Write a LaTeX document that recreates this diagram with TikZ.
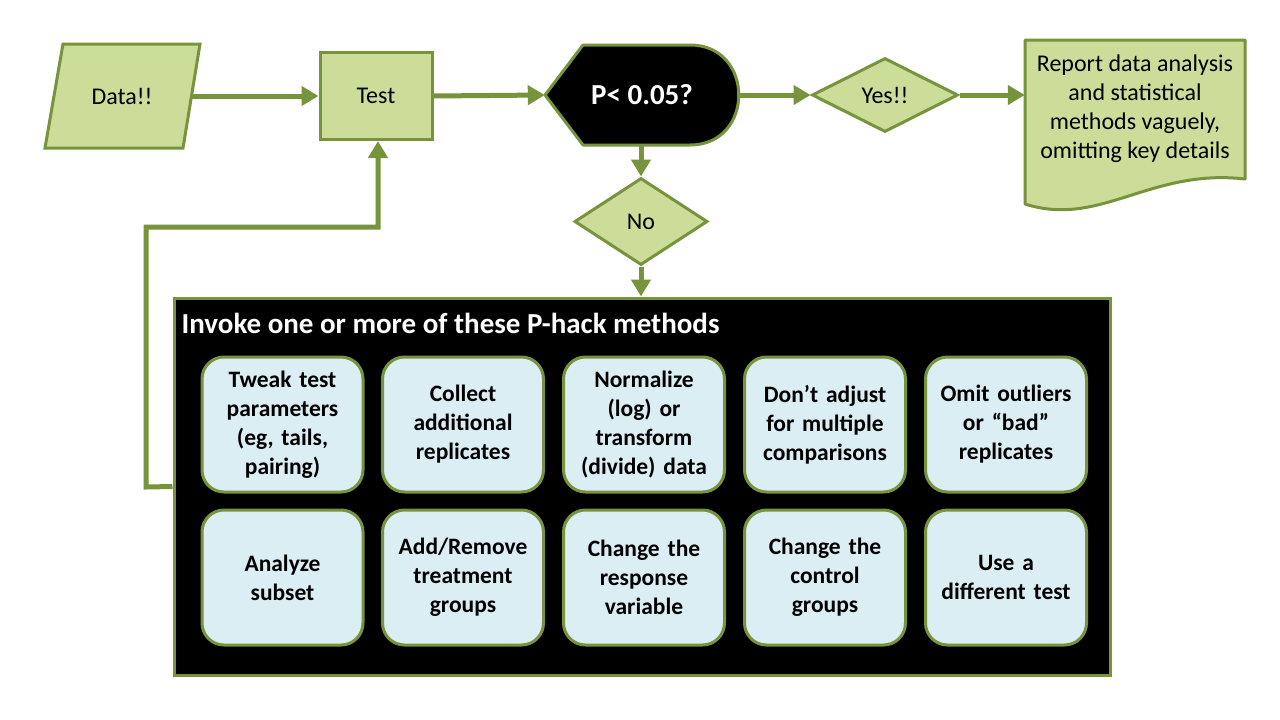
\documentclass[tikz,border=0pt]{standalone}
\usepackage{fontspec}
\setmainfont{Carlito}
\usetikzlibrary{shapes.geometric,arrows.meta}
\definecolor{gborder}{RGB}{119,147,60}
\definecolor{gfill}{RGB}{204,221,153}
\definecolor{bfill}{RGB}{219,238,244}
\tikzset{
  conn/.style={draw=gborder, line width=5pt, -{Triangle[length=17pt,width=19pt]}},
  gshape/.style={draw=gborder, fill=gfill, line width=3pt, inner sep=0pt, font=\fontsize{24}{29}\selectfont},
  method/.style={draw=gborder, fill=bfill, line width=3pt, rounded corners=22pt, minimum width=161pt, minimum height=135pt, inner sep=0pt, align=center, text width=158pt, font=\bfseries\fontsize{23.5}{29}\selectfont},
}
\begin{document}
\begin{tikzpicture}[x=1pt,y=-1pt]
\useasboundingbox (0,0) rectangle (1280,720);
\fill[white] (0,0) rectangle (1280,720);

% Data parallelogram
\draw[draw=gborder, fill=gfill, line width=3pt, line join=miter] (63,44) -- (200,44) -- (183,148) -- (45,148) -- cycle;
\node[inner sep=0pt, minimum width=139pt, minimum height=104pt, font=\fontsize{24}{29}\selectfont] (data) at (122,96) {Data!!};

% Test
\node[gshape, minimum width=112pt, minimum height=87pt] (test) at (376,96) {Test};

% P<0.05 display shape
\node[inner sep=0pt, minimum width=193pt, minimum height=100pt] (p) at (641.5,95) {};
\draw[draw=gborder, fill=black, line width=3pt, line join=round] (545,95) -- (583,45) -- (690,45) .. controls (755,45) and (755,145) .. (690,145) -- (583,145) -- cycle;
\node[text=white, font=\bfseries\fontsize{29}{34}\selectfont] (ptext) at (642,95) {P< 0.05?};

% Yes diamond
\node[gshape, diamond, minimum width=146pt, minimum height=74pt] (yes) at (885,95) {Yes!!};

% Report document shape
\node[inner sep=0pt, minimum width=220pt, minimum height=190pt] (rep) at (1135,130) {};
\draw[draw=gborder, fill=gfill, line width=3pt, line join=round] (1025,40) -- (1245,40) -- (1245,179) .. controls (1150,168) and (1100,228) .. (1025,204) -- cycle;
\node[align=center, font=\fontsize{24}{29}\selectfont] (reptext) at (1135,109) {Report data analysis\\and statistical\\methods vaguely,\\omitting key details};

% No diamond
\node[gshape, diamond, minimum width=133pt, minimum height=87pt] (no) at (641,221.5) {No};

% Big box
\node[draw=gborder, fill=black, line width=3pt, minimum width=936pt, minimum height=377pt, inner sep=0pt] (big) at (642,486.5) {};
\node[anchor=west, text=white, font=\bfseries\fontsize{29}{34}\selectfont] (title) at (178,323) {Invoke one or more of these P-hack methods};

% Methods
\node[method] (m1) at (282.5,424.5) {Tweak test\\parameters\\(eg, tails,\\pairing)};
\node[method] (m2) at (463,424.5) {Collect\\additional\\replicates};
\node[method] (m3) at (644,424.5) {Normalize\\(log) or\\transform\\(divide) data};
\node[method] (m4) at (825,424.5) {Don’t adjust\\for multiple\\comparisons};
\node[method] (m5) at (1006,424.5) {Omit outliers\\or “bad”\\replicates};
\node[method] (m6) at (282.5,577.5) {Analyze\\subset};
\node[method] (m7) at (463,577.5) {Add/Remove\\treatment\\groups};
\node[method] (m8) at (644,577.5) {Change the\\response\\variable};
\node[method] (m9) at (825,577.5) {Change the\\control\\groups};
\node[method] (m10) at (1006,577.5) {Use a\\different test};

% Connectors
\draw[conn] (data.east) -- (test.west);
\draw[conn] (test.east) -- (p.west);
\draw[conn] (p.east) -- (yes.west);
\draw[conn] (yes.east) -- (rep.west |- yes.east);
\draw[conn] (p.south -| no.north) -- (no.north);
\draw[conn] (no.south) -- (big.north -| no.south);
\coordinate (l1) at (146,487);
\coordinate (l2) at (146,227);
\coordinate (l3) at (378,227);
\draw[conn, line join=miter] (big.west) -- (l1) -- (l2) -- (l3) -- (l3 |- test.south);
\end{tikzpicture}
\end{document}
